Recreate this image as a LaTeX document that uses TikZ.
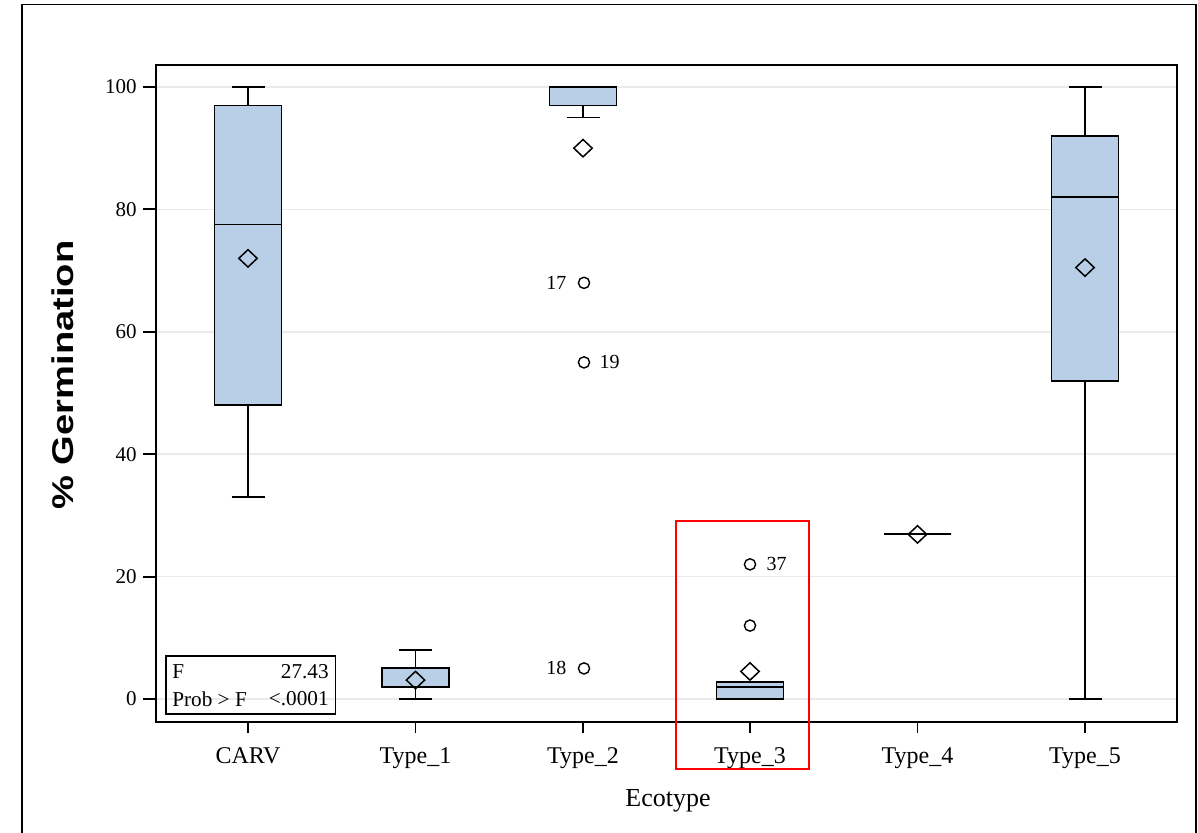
\documentclass[tikz,border=0pt]{standalone}
\usepackage{fontspec}
\setmainfont{Liberation Serif}
\newfontfamily\labelfont{Liberation Sans}
\usetikzlibrary{shapes.geometric,positioning}
\definecolor{boxblue}{RGB}{185,207,231}
\definecolor{gridgray}{RGB}{234,234,234}
\definecolor{markred}{RGB}{255,0,0}

\begin{document}
\begin{tikzpicture}[x=0.5pt, y=0.5pt,
  frame/.style={draw=black, line width=0.95pt},
  boxpart/.style={draw=black, line width=0.75pt},
  meanmark/.style={diamond, draw=black, line width=0.75pt, minimum width=9.5pt, minimum height=9pt, inner sep=0pt},
  outlier/.style={circle, draw=black, line width=0.7pt, minimum size=5.6pt, inner sep=0pt},
  ticklab/.style={font=\fontsize{10.5}{12}\selectfont, inner sep=0pt},
  catlab/.style={font=\fontsize{12}{14}\selectfont, anchor=base, inner sep=0pt},
  idlab/.style={font=\fontsize{10}{12}\selectfont, inner sep=1pt},
  leglab/.style={font=\fontsize{10.6}{12}\selectfont, inner sep=0pt}]

\useasboundingbox (0,0) rectangle (1198,832);
% outer frame
\draw[frame] (22,-2) -- (22,827.5) -- (1196,827.5) -- (1196,-2);

% plot area corners
\coordinate (pll) at (156,110);
\coordinate (pur) at (1177,767);

% y in percent from here
\begin{scope}[shift={(0,133)}, y=3.06pt]
\foreach \v in {0,20,...,100} {
  \draw[gridgray, line width=0.75pt] (156,\v) -- (1177,\v);
  \draw[frame] (143,\v) -- (156,\v);
  \node[ticklab, anchor=east] (yt\v) at (137,\v) {\v};
}

% boxes: name/x/min/q1/median/q3/max/mean
\foreach \name/\x/\lo/\qa/\md/\qb/\hi/\mn in {carv/248/33/48/77.5/97/100/72,
    t1/415.5/0/2/2/5.1/8/3.1, t2/583/95/97/100/100/100/90,
    t3/750/0/0/2/2.8/2.8/4.5, t4/917.5/27/27/27/27/27/26.9,
    t5/1085/0/52/82/92/100/70.5} {
  \draw[boxpart] (\x,\lo) -- (\x,\qa) (\x,\qb) -- (\x,\hi);
  \draw[boxpart, fill=boxblue] (\x-33.5,\qa) rectangle (\x+33.5,\qb);
  \draw[boxpart] (\x-33.5,\md) -- (\x+33.5,\md);
  \draw[boxpart] (\x-16.5,\lo) -- (\x+16.5,\lo) (\x-16.5,\hi) -- (\x+16.5,\hi);
  \node[meanmark] (mean-\name) at (\x,\mn) {};
}

% outliers
\node[outlier] (o17) at (584,68) {};
\node[outlier] (o19) at (584,55) {};
\node[outlier] (o18) at (584,5) {};
\node[outlier] (o37) at (750,22) {};
\node[outlier] (o12) at (750,12) {};
\node[idlab, left=4.5pt of o17] (l17) {17};
\node[idlab, right=3.5pt of o19] (l19) {19};
\node[idlab, left=4.5pt of o18] (l18) {18};
\node[idlab, right=4pt of o37] (l37) {37};
\end{scope}

\draw[frame] (pll) rectangle (pur);

% categories
\foreach \name/\x/\t in {carv/248/CARV, t1/415.5/Type\_1, t2/583/Type\_2,
    t3/750/Type\_3, t4/917.5/Type\_4, t5/1085/Type\_5} {
  \draw[frame] (\x,110) -- (\x,99);
  \node[catlab] (xt-\name) at (\x,69) {\t};
}

% F test inset
\draw[line width=0.7pt] (166,118) rectangle (335.7,176);
\node[leglab, anchor=west] (fname) at (172,160) {F};
\node[leglab, anchor=east] (fval) at (329,160) {27.43};
\node[leglab, anchor=west] (pname) at (172,133) {Prob > F};
\node[leglab, anchor=east] (pval) at (329,133) {<.0001};

% axis titles
\node[font=\labelfont\bfseries\fontsize{15}{18}\selectfont, rotate=90] (ylab) at (63,457) {\scalebox{1.27}[1]{\% Germination}};
\node[font=\fontsize{13}{15}\selectfont, anchor=base] (xlab) at (668,26) {Ecotype};

% highlight
\draw[markred, line width=1.1pt] (676,63) rectangle (809,311);
\end{tikzpicture}
\end{document}
